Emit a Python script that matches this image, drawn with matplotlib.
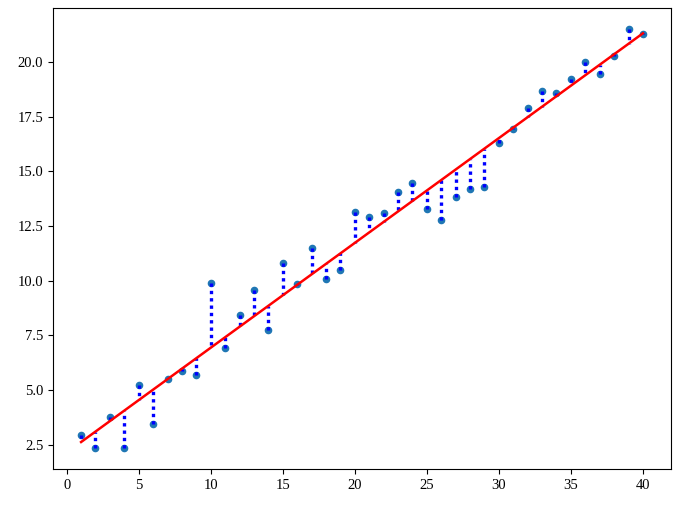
import numpy as np
import matplotlib
matplotlib.use("Agg")
import matplotlib.pyplot as plt

plt.rcParams['font.family'] = ['Liberation Serif', 'DejaVu Serif']
plt.rcParams['font.size'] = 10.5

x = np.arange(1, 41)
y = np.array([2.96, 2.35, 3.75, 2.35, 5.24, 3.47, 5.52, 5.88, 5.71, 9.89,
              6.92, 8.44, 9.58, 7.75, 10.83, 9.86, 11.49, 10.08, 10.50, 13.16,
              12.93, 13.11, 14.07, 14.49, 13.30, 12.78, 13.82, 14.20, 14.27, 16.31,
              16.94, 17.91, 18.66, 18.61, 19.22, 20.03, 19.45, 20.27, 21.52, 21.29])

k, b = np.polyfit(x, y, 1)
fit = k * x + b

fig = plt.figure(figsize=(6.96, 5.16), dpi=100)
ax = fig.add_axes([53/696, 1 - 469/516, (671-53)/696, (469-8)/516])
ax.scatter(x, y, s=20, color='C0', zorder=2)
for xi, yi, fi in zip(x, y, fit):
    ax.plot([xi, xi], [yi, fi], color='blue', linestyle=(0, (1, 1.2)), linewidth=2.4, zorder=3)
ax.plot(x, fit, color='red', linewidth=1.8, zorder=4)
ax.set_yticks([2.5, 5.0, 7.5, 10.0, 12.5, 15.0, 17.5, 20.0])
ax.set_xticks([0, 5, 10, 15, 20, 25, 30, 35, 40])
fig.savefig('out.png', dpi=100)
